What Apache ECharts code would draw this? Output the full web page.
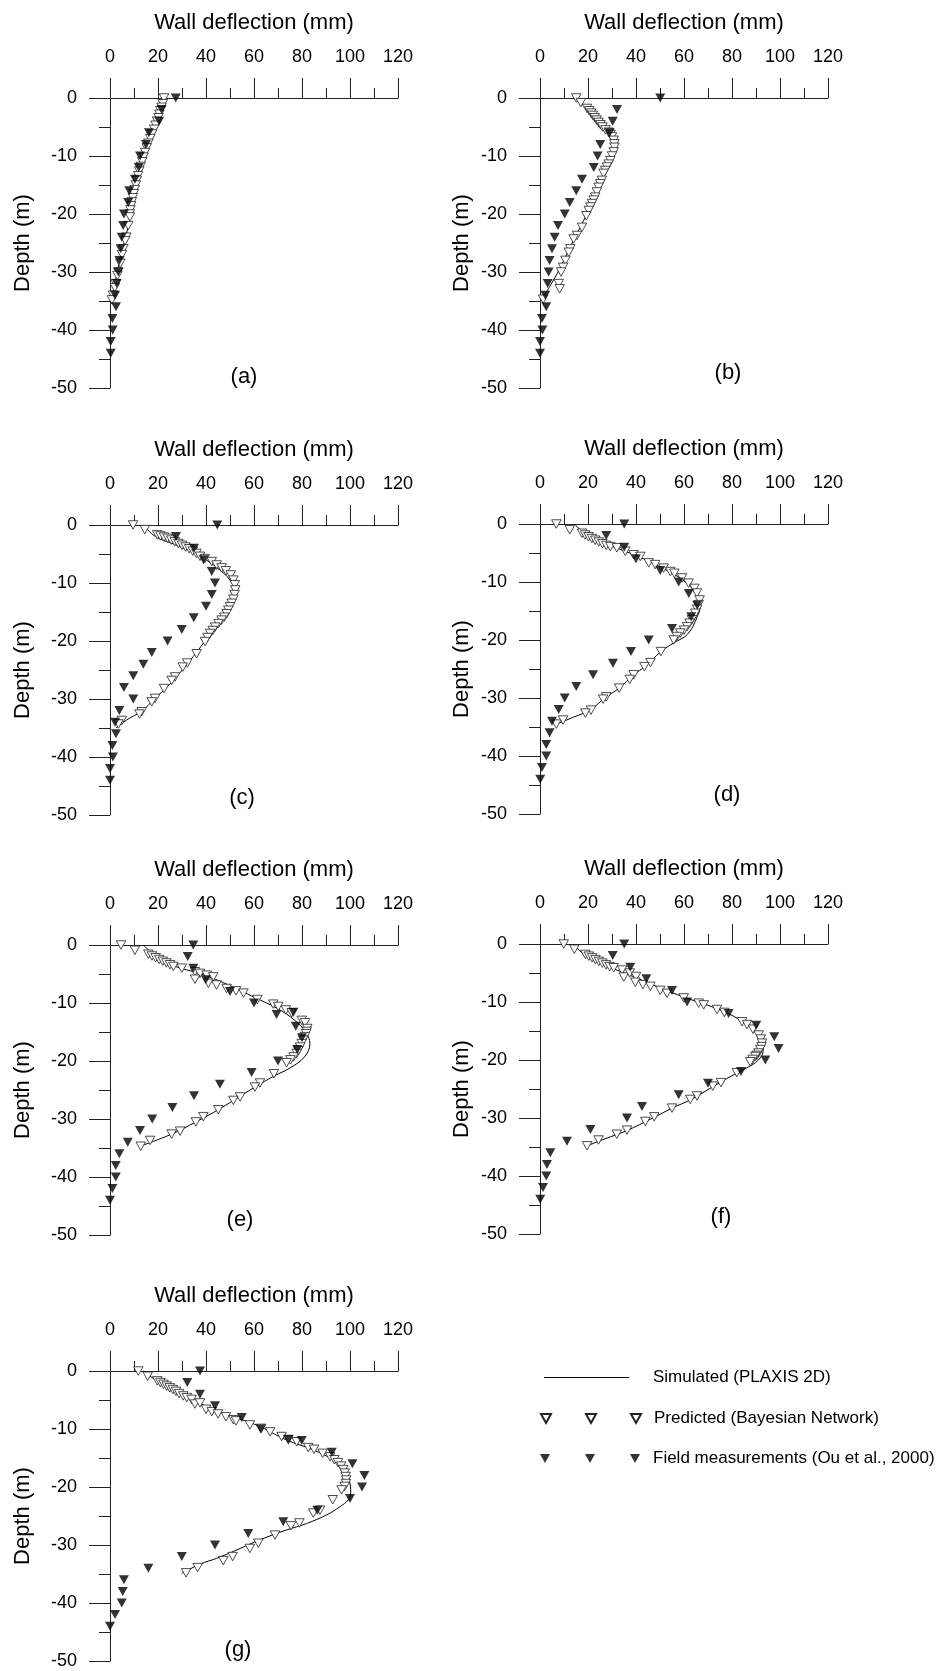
<!DOCTYPE html>
<html><head><meta charset="utf-8">
<script src="https://cdn.jsdelivr.net/npm/echarts@6.0.0/dist/echarts.min.js"></script>
<style>html,body{margin:0;padding:0;background:#fff}#c{width:938px;height:1671px}</style>
</head><body><div id="c"></div>
<script>
// ---- data: [wall deflection (mm), depth (m)] ----
const xTickValues = [0, 20, 40, 60, 80, 100, 120];
const yTickValues = [-50, -40, -30, -20, -10, 0];
const panelLabels = ['(a)', '(b)', '(c)', '(d)', '(e)', '(f)', '(g)'];
const seriesNames = ['Simulated (PLAXIS 2D)', 'Predicted (Bayesian Network)', 'Field measurements (Ou et al., 2000)'];

const simA = [[23,0],[21.5,-2],[19.5,-5],[16.5,-8],[14.4,-10],[12.5,-13],[10.5,-16],[8.7,-20],[6.5,-24],[4.5,-27],[3,-30],[1.5,-33],[0.7,-35]];
const predA = [[22.5,0],[22,-1],[21.5,-1.6],[21,-2.2],[20.6,-2.8],[20.2,-3.4],[19.6,-4],[19,-4.7],[18.4,-5.4],[17.6,-6.2],[16.8,-7],[16,-7.8],[15.3,-8.6],[14.6,-9.4],[14,-10.2],[13.4,-11],[12.8,-11.8],[12.2,-12.6],[11.7,-13.4],[11.2,-14.2],[10.8,-15],[10.3,-15.8],[9.9,-16.5],[9.5,-17.2],[9.1,-17.9],[8.8,-18.6],[8.5,-19.3],[8.2,-20],[8.3,-20.5],[7.6,-22],[6.8,-24],[6.3,-24.6],[5.6,-26],[5,-27],[4.3,-28.5],[3.4,-30],[3.1,-30.6],[2.3,-32],[2,-32.7],[1.2,-34],[0.8,-34.8]];
const fieldA = [[27.4,0],[21.5,-2],[20.5,-4],[16.2,-6],[15,-8],[12.5,-10],[12,-12],[10.4,-14],[8,-16],[7.6,-18],[5.8,-20],[5.5,-22],[4.9,-24],[4.4,-26],[3.9,-28],[3.5,-30],[2.8,-32],[2.1,-34],[2.5,-36],[1,-38],[1.1,-40],[0.3,-42],[0.3,-44]];

const simB = [[15,0],[19,-1.5],[23.7,-3],[27,-4.8],[29.3,-6.2],[31.2,-7.9],[30.5,-9.5],[28.5,-11.5],[26.5,-13.6],[22.4,-17.7],[18.2,-21.1],[12.6,-25.7],[7.1,-30.3],[0.8,-34.7]];
const predB = [[15.1,0],[17,-0.8],[19.6,-1.8],[20.5,-2.2],[21.3,-2.6],[22,-3],[22.8,-3.4],[23.6,-3.8],[24.4,-4.2],[25.2,-4.6],[26,-5],[27.3,-5.5],[28.6,-5.9],[29.4,-6.3],[30,-6.7],[30.7,-7.3],[31,-7.9],[31,-8.5],[30.7,-9.3],[30,-10],[29.3,-10.8],[28.6,-11.4],[27.9,-11.9],[27.2,-12.5],[26.5,-13],[25.8,-14.2],[25.1,-14.8],[24.4,-15.4],[23.7,-16.2],[23,-17.1],[22.4,-17.6],[21.7,-18.2],[21,-18.8],[20.3,-19.4],[19.3,-20.3],[17.5,-22.3],[15.4,-23.7],[14,-24.3],[12.6,-26],[12,-26.6],[10.6,-28],[9.6,-29.2],[8.8,-30],[7.8,-32],[8.2,-32.9],[1.3,-34.7]];
const fieldB = [[50.1,0],[32.1,-2],[30.3,-4],[29,-6],[25.1,-8],[24,-10],[22.4,-12],[17.5,-14],[15.1,-16],[12.4,-18],[10.3,-20],[7.5,-22],[6.1,-24],[5,-26],[4,-28],[3.6,-30],[3.2,-32],[2.2,-34],[2.6,-36],[0.8,-38],[1,-40],[0,-42],[0,-44]];

const simC = [[14,0],[19,-2],[28,-3.5],[38,-5.5],[45,-7.5],[50,-9.5],[52,-11.5],[51,-13.5],[48,-16],[43.5,-18.2],[39.6,-20],[36,-22],[31,-24.5],[26,-27],[18,-30.2],[13.5,-32],[7,-33.6],[2.5,-35]];
const predC = [[9.6,0],[14.5,-0.8],[19.7,-1.7],[21,-1.9],[22.5,-2.1],[24,-2.3],[25.5,-2.6],[27,-2.9],[28.5,-3.2],[30,-3.5],[31.5,-3.8],[33,-4.1],[34.5,-4.5],[36,-4.9],[37.5,-5.4],[39.5,-5.8],[42.4,-6.3],[44.4,-6.9],[46.5,-7.4],[48.3,-7.9],[50.3,-8.6],[51.4,-9.5],[52,-10.3],[52.2,-11.2],[51.9,-12],[51.4,-12.8],[50.7,-13.5],[50,-14.1],[49.3,-14.7],[48.6,-15.3],[47.6,-15.9],[46.5,-16.4],[45.2,-17],[43.8,-17.6],[42.8,-18.2],[41.7,-18.7],[40.6,-19.4],[39.6,-20.1],[36.1,-22.2],[32.2,-23.8],[30.3,-24.5],[27.1,-26.2],[25.7,-26.8],[22.5,-28.2],[18.75,-29.9],[17.4,-30.5],[13.2,-32.2],[12.3,-32.6],[4.9,-33.7],[3.5,-34.3]];
const fieldC = [[44.7,0],[27.5,-2],[35,-4],[39,-6],[42.4,-8],[43.75,-10],[42.4,-12],[40,-14],[34.9,-16],[29.9,-18],[24,-20],[17.4,-22],[13.9,-24],[9.7,-26],[5.8,-28],[9.7,-30],[3.9,-32],[2.1,-34],[2.5,-36],[1,-38],[1.2,-40],[0,-42],[0,-44]];

const simD = [[14.3,0],[20,-2],[30,-3.8],[42,-5.8],[52,-7.8],[60,-9.8],[65,-12],[66.8,-14],[65.5,-16],[61.5,-19],[55.7,-20.5],[50.4,-22],[44,-24.5],[39,-26],[33,-28.3],[27.6,-29.8],[21,-32],[14,-33.3],[6.8,-34.5]];
const predD = [[6.8,0],[12.4,-1],[17.5,-1.6],[18.8,-1.9],[20.2,-2.2],[21.6,-2.5],[23,-2.8],[24.5,-3.1],[26,-3.4],[27.6,-3.7],[29.3,-3.9],[32,-4.1],[35.5,-4.7],[39,-5.3],[41.8,-5.6],[45.3,-6.7],[48,-7],[51.5,-7.6],[54.3,-8.2],[56,-8.5],[59.2,-9.3],[61.9,-10.2],[64.3,-11.1],[65.4,-11.9],[66.5,-13.1],[66.1,-13.9],[65.5,-14.7],[64.7,-15.4],[63.3,-16.5],[62.3,-17.1],[61.3,-17.7],[60,-18.3],[58.5,-18.8],[57,-19.4],[55.7,-20],[50.4,-22],[46,-23.9],[43.5,-24.6],[39,-26],[37.4,-26.8],[33,-28.3],[27.6,-29.8],[26.3,-30.2],[21.25,-32.1],[18.9,-32.6],[9.6,-33.8],[6.8,-34.5]];
const fieldD = [[35.1,0],[27.6,-2],[35.1,-4],[40,-6],[50.1,-8],[57.8,-10],[62,-12],[65.5,-14],[63,-16],[55,-18],[45.3,-20],[37.9,-22],[30.4,-24],[22.1,-26],[15.1,-28],[10.3,-30],[7.8,-32],[5,-34],[4,-36],[2.6,-38],[2.6,-40],[0.8,-42],[0.1,-44]];

const simE = [[13.9,0],[18,-1.5],[26,-3.5],[38,-5],[50,-7],[60,-9],[70,-11],[77,-13],[81.5,-15],[83.3,-17],[81,-19.3],[75,-21.2],[68.3,-22.6],[60.4,-24.5],[51.4,-26.8],[45.1,-28.4],[35.8,-30.5],[25.7,-32.6],[12.5,-34.7]];
const predE = [[4.6,0],[10.4,-0.9],[16,-1.6],[17.5,-1.9],[19,-2.2],[20.5,-2.5],[22,-2.8],[23.5,-3.1],[25,-3.4],[26.4,-3.7],[29.9,-4],[35.4,-4.6],[37.5,-4.9],[40.3,-5.2],[43,-5.5],[35.4,-5.9],[41,-6.6],[44.4,-6.9],[48.6,-7.5],[52.5,-7.9],[55.6,-8.3],[61.4,-9.4],[68,-10.2],[70.1,-10.6],[73.3,-11.2],[75.7,-11.7],[79.9,-13],[81.25,-13.4],[82.2,-14.4],[82,-14.9],[81.7,-15.3],[81.2,-15.8],[80.5,-16.4],[79.9,-17],[79.2,-17.6],[78.5,-18.2],[77.8,-18.7],[76.5,-19.3],[75.2,-19.8],[73.6,-20.3],[68.3,-22.2],[62.5,-23.8],[60.4,-24.5],[54.2,-26.2],[51.4,-26.8],[45.1,-28.4],[38.9,-29.6],[35.8,-30.5],[29.2,-32.1],[25.7,-32.6],[16.7,-33.7],[12.8,-34.7]];
const fieldE = [[34.7,0],[32.4,-2],[34.7,-4],[39.9,-6],[50,-8],[60,-10],[69.4,-12],[76.4,-11.6],[77.4,-14],[80,-16],[78,-18],[70,-20],[59,-22],[45.8,-24],[35,-26],[26,-28],[17.6,-30],[12.5,-32],[7.4,-34],[3.9,-36],[2.4,-38],[2.4,-40],[1,-42],[0,-44]];

const simF = [[14,0],[19,-2],[28,-3.8],[40,-5.8],[52,-7.9],[63,-9.6],[74,-11.2],[83,-13],[89,-14.8],[92.5,-16.5],[93,-18.3],[91,-20],[86,-21.4],[80,-22.7],[72,-24.6],[63,-26.8],[55,-28.3],[47,-30],[36,-32.2],[27,-33.6],[19.6,-34.8]];
const predF = [[9.9,0],[14.3,-0.9],[18.9,-1.8],[20.3,-2.1],[21.7,-2.4],[23.1,-2.7],[24.5,-3],[26,-3.3],[27.5,-3.6],[29,-3.9],[30.7,-4.1],[34.2,-4.5],[34.9,-5.7],[37.4,-5],[40,-5.6],[39.7,-6.6],[42.9,-7],[46,-7.3],[50.1,-8],[52.9,-8.5],[59.9,-9.3],[66.1,-10.2],[68.2,-10.5],[73.75,-11.3],[76.8,-11.8],[84.2,-13.4],[86.25,-13.9],[88.75,-14.7],[91.1,-15.7],[92,-16.4],[92.5,-17.1],[92.3,-17.7],[91.8,-18.2],[91,-18.8],[90.3,-19.2],[89.7,-19.4],[88.6,-19.9],[87.6,-20.3],[82,-22.2],[75.4,-23.9],[72,-24.5],[65.4,-26.2],[62.6,-26.8],[55,-28.3],[47.6,-29.8],[43.9,-30.6],[36.25,-32.1],[32,-32.8],[24.4,-33.8],[19.6,-34.8]];
const fieldF = [[35.1,0],[30.3,-2],[37.6,-4],[44.3,-6],[55,-8],[61.3,-10],[78.6,-12],[90.1,-14],[97.6,-16],[99.4,-18],[93.9,-20],[83.75,-22],[70,-24],[57.8,-26],[42.5,-28],[36.25,-30],[21,-32],[11.25,-34],[4.3,-36],[2.9,-38],[2.6,-40],[1.25,-42],[0.1,-44]];

const simG = [[14,0],[16.7,-0.9],[23.6,-2.7],[37.5,-5.6],[51.4,-7.9],[61,-9.3],[73.6,-11.9],[84.7,-13.6],[93,-15.3],[97.9,-16.8],[99.8,-19],[100.3,-21],[99.3,-22.2],[95.8,-23.4],[90.3,-24.8],[81.9,-26.3],[73.6,-27.4],[62.5,-29.1],[54.2,-30.6],[44.4,-32.3],[37.5,-33.3],[29.9,-34.9]];
const predG = [[11.8,0],[15.7,-0.9],[19.7,-1.7],[21,-2],[22.3,-2.3],[23.6,-2.6],[24.9,-2.9],[26.2,-3.2],[27.5,-3.5],[28.8,-3.9],[30.5,-4.3],[32,-4.6],[34,-4.9],[35.4,-5.7],[37.5,-5.5],[40,-6.6],[42.4,-7],[45,-7.4],[48.3,-7.9],[51.4,-8.4],[52.5,-8.6],[58.3,-9.3],[63,-9.9],[66.7,-10.5],[71.5,-11.3],[74.3,-11.8],[77.8,-12.2],[82.6,-13.2],[85,-13.5],[88.6,-14.2],[91.7,-14.8],[93.5,-15.3],[95,-15.8],[96.3,-16.4],[97.2,-17],[97.8,-17.6],[98.2,-18.2],[98.4,-18.8],[98.3,-19.4],[97.8,-19.9],[96.5,-20.5],[92.8,-22.2],[87.5,-24],[84.7,-24.5],[78.9,-26.2],[75.4,-26.7],[68.75,-28.3],[61.8,-29.7],[58.3,-30.6],[51.1,-32],[47.2,-32.7],[36.5,-33.9],[31.7,-34.8]];
const fieldG = [[37.5,0],[32.2,-2],[37.5,-4],[43.75,-6],[54.9,-8],[62.8,-10],[74.3,-11.8],[79.9,-12],[92.4,-14],[101,-16],[106,-18],[105,-20],[100,-22],[86.4,-24],[72.2,-26],[57.6,-28],[43.75,-30],[29.9,-32],[16,-34],[5.8,-36],[5.3,-38],[4.9,-40],[2.1,-42],[0,-44]];

// ---- layout (pixels) ----
const FONT = '"Liberation Sans", Arial, sans-serif';
const layout = [
  {left:110, top:98,  yGap:76, lx:244, ly:377},
  {left:540, top:98,  yGap:67, lx:728, ly:373},
  {left:110, top:525, yGap:76, lx:242, ly:798},
  {left:540, top:524, yGap:67, lx:727, ly:795},
  {left:110, top:945, yGap:76, lx:240, ly:1220},
  {left:540, top:944, yGap:67, lx:721, ly:1217},
  {left:110, top:1371,yGap:76, lx:238, ly:1650}
];
const sims = [simA, simB, simC, simD, simE, simF, simG];
const preds = [predA, predB, predC, predD, predE, predF, predG];
const fields = [fieldA, fieldB, fieldC, fieldD, fieldE, fieldF, fieldG];

const AX = '#222';
const grids = [], xAxes = [], yAxes = [], series = [], graphics = [];
layout.forEach((L, i) => {
  grids.push({left: L.left, top: L.top, width: 288, height: 290, containLabel: false, outerBoundsMode: 'none'});
  xAxes.push({
    gridIndex: i, type: 'value', position: 'top', min: xTickValues[0], max: xTickValues[xTickValues.length-1], interval: 20,
    name: 'Wall deflection (mm)', nameLocation: 'middle', nameGap: 64,
    nameTextStyle: {fontSize: 22, color: '#000', fontFamily: FONT},
    axisLine: {onZero: false, lineStyle: {color: AX, width: 1}},
    axisTick: {show: true, length: 20, lineStyle: {color: AX, width: 1}},
    minorTick: {show: true, splitNumber: 2, length: 10, lineStyle: {color: AX, width: 1}},
    axisLabel: {margin: 32, fontSize: 18, color: '#000', fontFamily: FONT},
    splitLine: {show: false}, minorSplitLine: {show: false}
  });
  yAxes.push({
    gridIndex: i, type: 'value', min: yTickValues[0], max: yTickValues[yTickValues.length-1], interval: 10,
    name: 'Depth (m)', nameLocation: 'middle', nameGap: L.yGap,
    nameTextStyle: {fontSize: 22, color: '#000', fontFamily: FONT},
    axisLine: {onZero: false, lineStyle: {color: AX, width: 1}},
    axisTick: {show: true, length: 21, lineStyle: {color: AX, width: 1}},
    minorTick: {show: true, splitNumber: 2, length: 11, lineStyle: {color: AX, width: 1}},
    axisLabel: {margin: 33, fontSize: 18, color: '#000', fontFamily: FONT},
    splitLine: {show: false}, minorSplitLine: {show: false}
  });
  series.push({
    name: seriesNames[0], type: 'line', xAxisIndex: i, yAxisIndex: i, data: sims[i],
    smooth: 0.4, symbol: 'none', showSymbol: false, lineStyle: {color: '#000', width: 1}, itemStyle: {color: '#000'}, z: 2, clip: false
  });
  series.push({
    name: seriesNames[1], type: 'scatter', xAxisIndex: i, yAxisIndex: i, data: preds[i],
    symbol: 'triangle', symbolRotate: 180, symbolSize: [9.5, 8.5],
    itemStyle: {color: '#fff', borderColor: '#222', borderWidth: 0.8, opacity: 1}, z: 3, clip: false
  });
  series.push({
    name: seriesNames[2], type: 'scatter', xAxisIndex: i, yAxisIndex: i, data: fields[i],
    symbol: 'triangle', symbolRotate: 180, symbolSize: [10, 9],
    itemStyle: {color: '#000', borderColor: '#000', borderWidth: 0}, z: 4, clip: false
  });
  graphics.push({type: 'text', x: L.lx, y: L.ly, style: {text: panelLabels[i], fontSize: 22, fill: '#000', font: '22px ' + FONT, textAlign: 'center', textVerticalAlign: 'middle'}});
});

const lineIcon = 'path://M0,0 L85,0 L85,1 L0,1 Z';
const tri3 = 'path://M0,0 L10,0 L5,9 Z M45,0 L55,0 L50,9 Z M90,0 L100,0 L95,9 Z';
const legendText = {fontSize: 17, color: '#000', fontFamily: FONT};
const option = {
  backgroundColor: '#fff',
  animation: false,
  grid: grids, xAxis: xAxes, yAxis: yAxes, series: series,
  graphic: graphics,
  legend: [
    {data: [seriesNames[0]], left: 544, top: 1369, padding: 0, itemWidth: 85, itemHeight: 1, icon: lineIcon, selectedMode: false,
     textStyle: Object.assign({padding: [0, 0, 0, 19]}, legendText)},
    {data: [seriesNames[1]], left: 540, top: 1410, padding: 0, itemWidth: 100, itemHeight: 10, icon: tri3, selectedMode: false,
     textStyle: Object.assign({padding: [0, 0, 0, 8]}, legendText)},
    {data: [seriesNames[2]], left: 540, top: 1450, padding: 0, itemWidth: 100, itemHeight: 10, icon: tri3, selectedMode: false,
     textStyle: Object.assign({padding: [0, 0, 0, 8]}, legendText)}
  ]
};
const chart = echarts.init(document.getElementById('c'), null, {renderer: 'canvas'});
chart.setOption(option);
</script></body></html>
